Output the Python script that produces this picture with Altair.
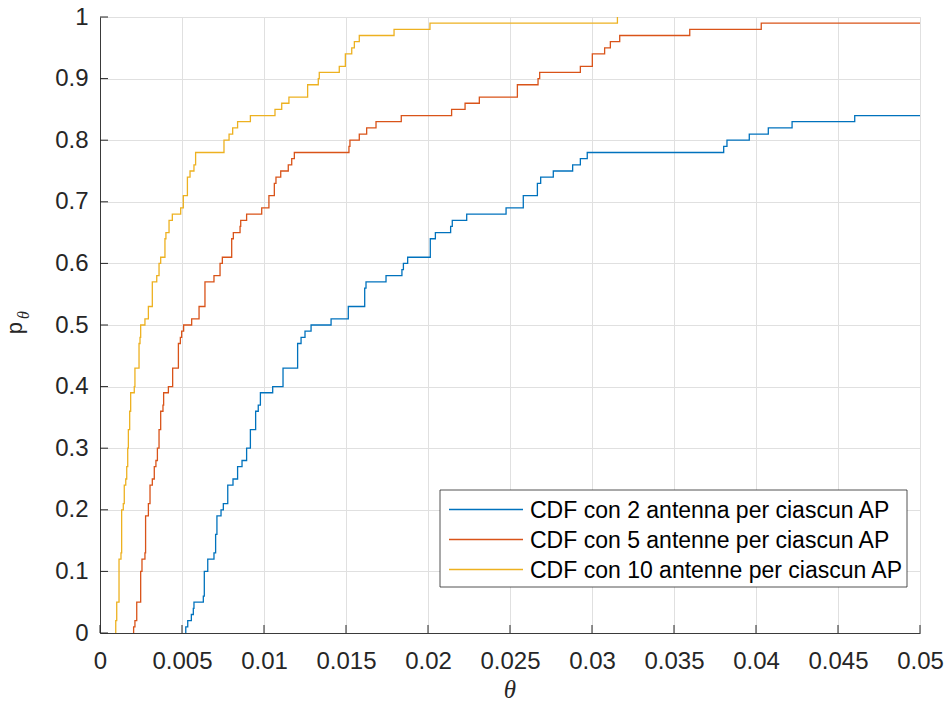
import altair as alt
import pandas as pd

# ---- data (step CDF jump points) ----
x_2 = [0.00523, 0.00523, 0.00535, 0.00557, 0.00569, 0.00573, 0.00630, 0.00636, 0.00657, 0.00695,
       0.00705, 0.00713, 0.00738, 0.00752, 0.00779, 0.00811, 0.00839, 0.00866, 0.00894, 0.00917,
       0.00949, 0.00965, 0.00978, 0.01053, 0.01116, 0.01205, 0.01226, 0.01250, 0.01287, 0.01409,
       0.01514, 0.01614, 0.01622, 0.01744, 0.01841, 0.01850, 0.01876, 0.02014, 0.02045, 0.02138,
       0.02148, 0.02236, 0.02476, 0.02581, 0.02667, 0.02687, 0.02764, 0.02882, 0.02929, 0.02971,
       0.03803, 0.03823, 0.03959, 0.04075, 0.04220, 0.04602, 0.05]
y_2 = [0, 0.01, 0.02, 0.03, 0.04, 0.05, 0.06, 0.10, 0.12, 0.13,
       0.16, 0.19, 0.20, 0.21, 0.24, 0.25, 0.27, 0.28, 0.30, 0.33,
       0.36, 0.37, 0.39, 0.40, 0.43, 0.47, 0.48, 0.49, 0.50, 0.51,
       0.53, 0.56, 0.57, 0.58, 0.59, 0.60, 0.61, 0.64, 0.65, 0.66,
       0.67, 0.68, 0.69, 0.71, 0.73, 0.74, 0.75, 0.76, 0.77, 0.78,
       0.79, 0.80, 0.81, 0.82, 0.83, 0.84, 0.84]

x_5 = [0.00205, 0.00205, 0.00213, 0.00224, 0.00248, 0.00256, 0.00274, 0.00278, 0.00295, 0.00305,
       0.00319, 0.00331, 0.00341, 0.00350, 0.00360, 0.00370, 0.00384, 0.00388, 0.00417, 0.00443,
       0.00478, 0.00490, 0.00498, 0.00510, 0.00559, 0.00604, 0.00640, 0.00695, 0.00732, 0.00746,
       0.00803, 0.00813, 0.00854, 0.00858, 0.00894, 0.00986, 0.01030, 0.01063, 0.01073, 0.01102,
       0.01148, 0.01169, 0.01185, 0.01518, 0.01524, 0.01581, 0.01626, 0.01683, 0.01837, 0.02144,
       0.02226, 0.02313, 0.02545, 0.02671, 0.02681, 0.02929, 0.03002, 0.03077, 0.03112, 0.03169,
       0.03596, 0.04032, 0.05]
y_5 = [0, 0.01, 0.02, 0.05, 0.10, 0.12, 0.13, 0.19, 0.21, 0.24,
       0.25, 0.27, 0.28, 0.30, 0.33, 0.36, 0.37, 0.39, 0.40, 0.43,
       0.47, 0.48, 0.49, 0.50, 0.51, 0.53, 0.57, 0.58, 0.60, 0.61,
       0.64, 0.65, 0.66, 0.67, 0.68, 0.69, 0.71, 0.73, 0.74, 0.75,
       0.76, 0.77, 0.78, 0.79, 0.80, 0.81, 0.82, 0.83, 0.84, 0.85,
       0.86, 0.87, 0.89, 0.90, 0.91, 0.92, 0.94, 0.95, 0.96, 0.97,
       0.98, 0.99, 0.99]

x_10 = [0.00096, 0.00096, 0.00102, 0.00116, 0.00128, 0.00132, 0.00142, 0.00148, 0.00157, 0.00163,
        0.00169, 0.00173, 0.00181, 0.00187, 0.00209, 0.00213, 0.00238, 0.00244, 0.00248, 0.00274,
        0.00295, 0.00319, 0.00346, 0.00360, 0.00370, 0.00396, 0.00402, 0.00421, 0.00441, 0.00492,
        0.00508, 0.00533, 0.00549, 0.00573, 0.00583, 0.00756, 0.00787, 0.00809, 0.00839, 0.00917,
        0.01067, 0.01108, 0.01152, 0.01266, 0.01331, 0.01337, 0.01459, 0.01496, 0.01535, 0.01551,
        0.01581, 0.01793, 0.02012, 0.03155]
y_10 = [0, 0.02, 0.05, 0.12, 0.13, 0.20, 0.21, 0.24, 0.25, 0.27,
        0.30, 0.33, 0.36, 0.39, 0.40, 0.43, 0.47, 0.48, 0.50, 0.51,
        0.53, 0.57, 0.58, 0.60, 0.61, 0.64, 0.65, 0.67, 0.68, 0.69,
        0.71, 0.74, 0.75, 0.76, 0.78, 0.80, 0.81, 0.82, 0.83, 0.84,
        0.85, 0.86, 0.87, 0.89, 0.90, 0.91, 0.92, 0.94, 0.95, 0.96,
        0.97, 0.98, 0.99, 1.00]

series_labels = ["CDF con 2 antenna per ciascun AP",
                 "CDF con 5 antenne per ciascun AP",
                 "CDF con 10 antenne per ciascun AP"]
series_colors = ["#0072BD", "#D95319", "#EDB120"]

x_ticks = [0, 0.005, 0.01, 0.015, 0.02, 0.025, 0.03, 0.035, 0.04, 0.045, 0.05]
y_ticks = [0, 0.1, 0.2, 0.3, 0.4, 0.5, 0.6, 0.7, 0.8, 0.9, 1]

x_title = "θ"
y_title_main = "p"
y_title_sub = "θ"

# ---- build table ----
rows = []
for lab, xs_, ys_ in zip(series_labels, [x_2, x_5, x_10], [y_2, y_5, y_10]):
    for i, (a, b) in enumerate(zip(xs_, ys_)):
        rows.append({"theta": a, "p": b, "serie": lab, "k": i})
df = pd.DataFrame(rows)

W, H = 820, 616
AX = "#262626"
FONT = "Liberation Sans"
SERIF = "Liberation Serif"
GRID = "#e0e0e0"

xscale = alt.Scale(domain=[0, 0.05], nice=False, zero=False)
yscale = alt.Scale(domain=[0, 1], nice=False, zero=False)

x_axis = alt.Axis(values=x_ticks, format="~g", title=None, grid=True, gridColor=GRID,
                  gridWidth=1, ticks=False, tickSize=0, domainColor="#3a3a3a", domainWidth=1,
                  labelFontSize=24, labelFont=FONT, labelColor=AX, labelPadding=16,
                  labelFlush=False, labelOverlap=False, labelBound=False)
y_axis = alt.Axis(values=y_ticks, format="~g", title=None, grid=True, gridColor=GRID,
                  gridWidth=1, ticks=False, tickSize=0, domainColor="#3a3a3a", domainWidth=1,
                  labelFontSize=24, labelFont=FONT, labelColor=AX, labelPadding=12,
                  labelFlush=False, labelOverlap=False, labelBound=False)

lines = alt.Chart(df).mark_line(interpolate="step-after", strokeWidth=1.3).encode(
    x=alt.X("theta:Q", scale=xscale, axis=x_axis),
    y=alt.Y("p:Q", scale=yscale, axis=y_axis),
    color=alt.Color("serie:N", scale=alt.Scale(domain=series_labels, range=series_colors),
                    legend=None),
    detail="serie:N",
    order="k:Q",
)

xt = alt.Chart(pd.DataFrame({"theta": x_ticks})).mark_rule(color=AX, strokeWidth=1).encode(
    x=alt.X("theta:Q", scale=xscale, axis=x_axis),
    y=alt.value(H), y2=alt.value(H - 8),
)
yt = alt.Chart(pd.DataFrame({"p": y_ticks})).mark_rule(color=AX, strokeWidth=1).encode(
    y=alt.Y("p:Q", scale=yscale, axis=y_axis),
    x=alt.value(0), x2=alt.value(8),
)

one = pd.DataFrame({"a": [0]})
box = alt.Chart(one).mark_rect(fill="white", stroke=AX, strokeWidth=0.8).encode(
    x=alt.value(340), x2=alt.value(807), y=alt.value(473), y2=alt.value(570),
)

legend_layers = []
for i, (lab, col) in enumerate(zip(series_labels, series_colors)):
    yy = 492.5 + 30 * i
    legend_layers.append(
        alt.Chart(one).mark_rule(color=col, strokeWidth=1.3).encode(
            x=alt.value(349), x2=alt.value(423), y=alt.value(yy))
    )
    legend_layers.append(
        alt.Chart(pd.DataFrame({"t": [lab]})).mark_text(
            align="left", baseline="middle", fontSize=23, font=FONT, color="#000000"
        ).encode(text="t:N", x=alt.value(430), y=alt.value(yy + 1.5))
    )

xlab = alt.Chart(pd.DataFrame({"t": [x_title]})).mark_text(
    align="center", baseline="alphabetic", fontSize=25, font=SERIF, fontStyle="italic",
    color=AX).encode(text="t:N", x=alt.value(W / 2), y=alt.value(681))

ylab = alt.Chart(pd.DataFrame({"t": [y_title_main]})).mark_text(
    align="center", baseline="alphabetic", fontSize=22, font=FONT, angle=270,
    color=AX).encode(text="t:N", x=alt.value(-78), y=alt.value(311))
ysub = alt.Chart(pd.DataFrame({"t": [y_title_sub]})).mark_text(
    align="center", baseline="alphabetic", fontSize=16, font=SERIF, fontStyle="italic",
    angle=270, color=AX).encode(text="t:N", x=alt.value(-71), y=alt.value(298))

chart = alt.layer(lines, xt, yt, box, *legend_layers, xlab, ylab, ysub).properties(
    width=W, height=H,
    padding={"left": 100, "top": 17, "right": 27, "bottom": 71},
    autosize=alt.AutoSizeParams(type="none"),
).configure_view(strokeWidth=0).configure(background="white")

chart.save("out.html", embed_options={"renderer": "svg", "actions": False})
